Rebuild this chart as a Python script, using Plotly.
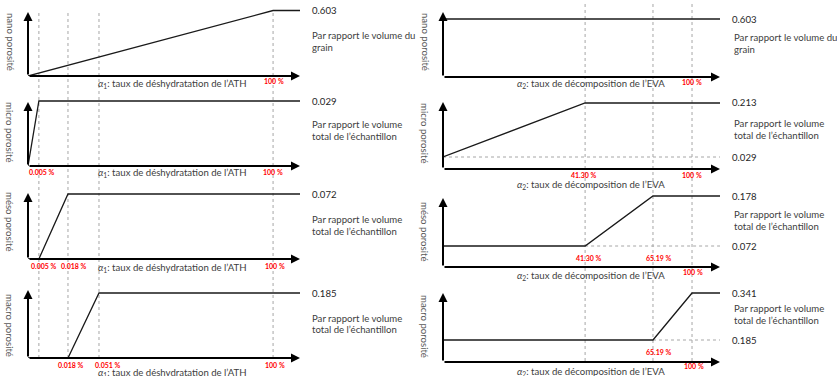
import plotly.graph_objects as go

W, H = 837, 376

# ------------------------------------------------------------------ data
pore_names = ["nano porosité", "micro porosité", "méso porosité", "macro porosité"]

# schematic positions of the break points along each (non-linear) progress axis
# (0 = origin of the axis, 1 = arrow tip)
ath_break_labels = ["0.005 %", "0.018 %", "0.051 %", "100 %"]
ath_break_pos = [0.040, 0.147, 0.261, 0.901]
eva_break_labels = ["41.30 %", "65.19 %", "100 %"]
eva_break_pos = [0.513, 0.758, 0.899]

# porosity levels
ath_final = [0.603, 0.029, 0.072, 0.185]
eva_initial = [0.603, 0.029, 0.072, 0.185]
eva_final = [0.603, 0.213, 0.178, 0.341]

# where each porosity starts / stops growing
ath_start = [None, None, "0.005 %", "0.018 %"]
ath_end = ["100 %", "0.005 %", "0.018 %", "0.051 %"]
eva_start = [None, None, "41.30 %", "65.19 %"]
eva_end = [None, "41.30 %", "65.19 %", "100 %"]

# red tick labels shown under each panel
ath_ticks = [["100 %"], ["0.005 %", "100 %"], ["0.005 %", "0.018 %", "100 %"],
             ["0.018 %", "0.051 %", "100 %"]]
eva_ticks = [["100 %"], ["41.30 %", "100 %"], ["41.30 %", "65.19 %", "100 %"],
             ["65.19 %", "100 %"]]

notes = [["Par rapport le volume du", "grain"],
         ["Par rapport le volume", "total de l’échantillon"],
         ["Par rapport le volume", "total de l’échantillon"],
         ["Par rapport le volume", "total de l’échantillon"]]

ath_title = "<i>α</i><sub>1</sub>: taux de déshydratation de l’ATH"
eva_title = "<i>α</i><sub>2</sub>: taux de décomposition de l’EVA"

# ------------------------------------------------------------------ layout (pixels)
FONT = "Lato, 'Open Sans', sans-serif"
FS = 9.6
TXT = "#404040"
RED = "#ff0000"
DOT = "#a6a6a6"

col = {
    "L": dict(x0=28, x1=300, txt_x=310, note_x=310, title_x=172, ylab_x=10,
              vtop=10, vbot=358),
    "R": dict(x0=443, x1=720, txt_x=730, note_x=732, title_x=591, ylab_x=425,
              vtop=4, vbot=361),
}
# per panel: axis px, arrow tip px, two (value, px) calibration points
L_panels = [
    dict(axis=76, tip=12, cal=((0, 76), (0.603, 10.5)), notes=(36, 48), title=84,
         ylab=42, tick_y=[81], tick_dx=[1]),
    dict(axis=166, tip=102, cal=((0, 166), (0.029, 101)), notes=(125, 137), title=173,
         ylab=132, tick_y=[172, 172], tick_dx=[3, 0]),
    dict(axis=259, tip=193, cal=((0, 259), (0.072, 194)), notes=(219, 231), title=268,
         ylab=222, tick_y=[266, 266, 266], tick_dx=[5, 6, 2]),
    dict(axis=358, tip=290, cal=((0, 358), (0.185, 293)), notes=(318, 329), title=373,
         ylab=325, tick_y=[365, 365, 365], tick_dx=[3, 9, 2]),
]
R_panels = [
    dict(axis=77, tip=12, cal=((0, 77), (0.603, 19)), notes=(37, 49), title=84,
         ylab=42, tick_y=[82], tick_dx=[0]),
    dict(axis=169, tip=102, cal=((0.029, 157), (0.213, 103)), notes=(124, 135), title=185,
         ylab=133, tick_y=[175, 175], tick_dx=[-1, 0]),
    dict(axis=267, tip=198, cal=((0.072, 246), (0.178, 196)), notes=(214, 226), title=276,
         ylab=232, tick_y=[258, 258, 272], tick_dx=[4, 6, 1]),
    dict(axis=362, tip=293, cal=((0.185, 340), (0.341, 293)), notes=(308, 320), title=372,
         ylab=326, tick_y=[352, 366], tick_dx=[6, 2]),
]


def px_x(p):
    return p / W


def px_y(p):
    return 1 - p / H


def value_at(cal, p):
    (v1, p1), (v2, p2) = cal
    return v1 + (p1 - p) * (v2 - v1) / (p1 - p2)


fig = go.Figure()
layout = dict(width=W, height=H, margin=dict(l=0, r=0, t=0, b=0),
              paper_bgcolor="white", plot_bgcolor="rgba(0,0,0,0)",
              showlegend=False, annotations=[], shapes=[])
ann = layout["annotations"]
shp = layout["shapes"]


def text(x, y, s, xref="paper", yref="paper", **kw):
    d = dict(x=x, y=y, xref=xref, yref=yref, text=s, showarrow=False,
             font=dict(family=FONT, size=FS, color=TXT), xanchor="left",
             yanchor="middle")
    d.update(kw)
    ann.append(d)


def build_panel(k, side, p, i, xs, ys, tick_list, pos_of, title, levels):
    c = col[side]
    xa, ya = ("x" if k == 1 else f"x{k}"), ("y" if k == 1 else f"y{k}")
    top_px = min(p["tip"], min(pp for _, pp in p["cal"])) - 1.5
    ylo = value_at(p["cal"], p["axis"])
    yhi = value_at(p["cal"], top_px)
    ytip = value_at(p["cal"], p["tip"])
    name = "xaxis" if k == 1 else f"xaxis{k}"
    layout[name] = dict(domain=[px_x(c["x0"]), px_x(c["x1"])], range=[0, 1],
                        visible=False, fixedrange=True, anchor=ya)
    name = "yaxis" if k == 1 else f"yaxis{k}"
    layout[name] = dict(domain=[px_y(p["axis"]), px_y(top_px)], range=[ylo, yhi],
                        visible=False, fixedrange=True, anchor=xa)

    fig.add_trace(go.Scatter(x=xs, y=ys, xaxis=xa, yaxis=ya, mode="lines",
                             line=dict(color="#1a1a1a", width=1.3),
                             hoverinfo="skip"))
    # axes with arrows
    for (x, y, ax, ay) in [(1, ylo, 0, ylo), (0, ytip, 0, ylo)]:
        ann.append(dict(x=x, y=y, ax=ax, ay=ay, xref=xa, yref=ya, axref=xa, ayref=ya,
                        text="", showarrow=True, arrowhead=2, arrowsize=0.9,
                        arrowwidth=2, arrowcolor="black", standoff=0, startstandoff=0))
    # level labels
    for v in levels:
        text(px_x(c["txt_x"]), v, f"{v:.3f}", yref=ya,
             font=dict(family=FONT, size=FS, color="#262626"))
    # notes
    for line, yy in zip(notes[i], p["notes"]):
        text(px_x(c["note_x"]), px_y(yy), line)
    # axis title
    text(px_x(c["title_x"]), px_y(p["title"]), title, xanchor="center")
    # y label
    text(px_x(c["ylab_x"]), px_y(p["ylab"]), pore_names[i], xanchor="center",
         textangle=90, font=dict(family=FONT, size=FS, color="#595959"))
    # red tick labels
    for lab, ty, dx in zip(tick_list, p["tick_y"], p["tick_dx"]):
        text(pos_of[lab], px_y(ty), f"<b>{lab}</b>", xref=xa, xanchor="center",
             xshift=dx, font=dict(family=FONT, size=7, color=RED))
    return xa, ya


ath_pos = dict(zip(ath_break_labels, ath_break_pos))
eva_pos = dict(zip(eva_break_labels, eva_break_pos))

# ---- left column: ATH dehydration
for i in range(4):
    xs, ys = [0.0], [0.0]
    if ath_start[i]:
        xs.append(ath_pos[ath_start[i]]); ys.append(0.0)
    xs.append(ath_pos[ath_end[i]]); ys.append(ath_final[i])
    xs.append(1.0); ys.append(ath_final[i])
    build_panel(i + 1, "L", L_panels[i], i, xs, ys, ath_ticks[i], ath_pos,
                ath_title, [ath_final[i]])

# ---- right column: EVA decomposition
for i in range(4):
    xs, ys = [0.0], [eva_initial[i]]
    if eva_start[i]:
        xs.append(eva_pos[eva_start[i]]); ys.append(eva_initial[i])
    if eva_end[i]:
        xs.append(eva_pos[eva_end[i]]); ys.append(eva_final[i])
    xs.append(1.0); ys.append(eva_final[i])
    levels = [eva_final[i]] if eva_final[i] == eva_initial[i] else [eva_final[i], eva_initial[i]]
    xa, ya = build_panel(i + 5, "R", R_panels[i], i, xs, ys, eva_ticks[i], eva_pos,
                         eva_title, levels)
    if eva_final[i] != eva_initial[i]:
        x0 = eva_pos[eva_start[i]] if eva_start[i] else 0.0
        shp.append(dict(type="line", xref=xa, yref=ya, x0=x0, x1=1,
                        y0=eva_initial[i], y1=eva_initial[i], layer="below",
                        line=dict(color=DOT, width=1, dash="dot")))

# dotted vertical guide lines through each column
for xa, side, positions in [("x", "L", ath_break_pos), ("x5", "R", eva_break_pos)]:
    c = col[side]
    for xp in positions:
        shp.append(dict(type="line", xref=xa, yref="paper", x0=xp, x1=xp,
                        y0=px_y(c["vbot"]), y1=px_y(c["vtop"]), layer="below",
                        line=dict(color=DOT, width=1, dash="dot")))

fig.update_layout(**layout)
fig.write_html("out.html",
               config={"displayModeBar": False},
               post_script="document.body.style.margin='0';"
                           "document.body.style.overflow='hidden';")
